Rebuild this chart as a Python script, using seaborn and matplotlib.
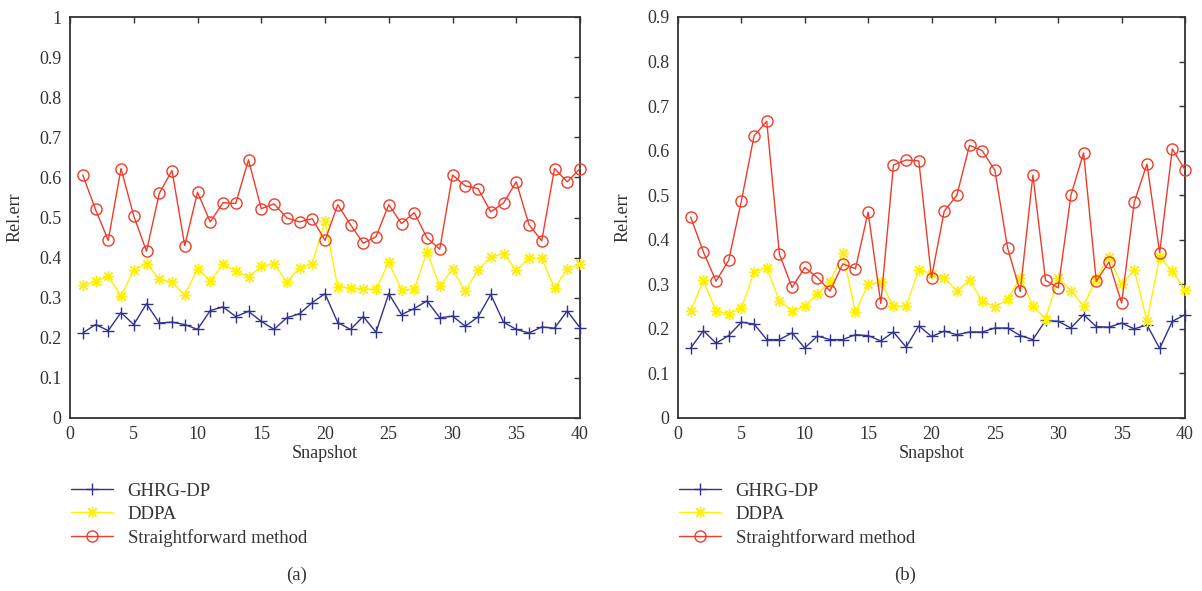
import numpy as np
import pandas as pd
import seaborn as sns
import matplotlib.pyplot as plt
from matplotlib.ticker import FuncFormatter

# snapshots 1..40
snapshot = list(range(1, 41))

# panel (a)
ghrg_a = [0.212, 0.233, 0.218, 0.263, 0.233, 0.285, 0.237, 0.239, 0.233, 0.221,
          0.268, 0.277, 0.253, 0.266, 0.241, 0.221, 0.250, 0.260, 0.288, 0.310,
          0.238, 0.221, 0.253, 0.214, 0.310, 0.258, 0.273, 0.292, 0.250, 0.254,
          0.229, 0.252, 0.308, 0.239, 0.221, 0.212, 0.227, 0.224, 0.267, 0.225]
ddpa_a = [0.331, 0.341, 0.353, 0.304, 0.369, 0.385, 0.346, 0.339, 0.306, 0.372,
          0.342, 0.383, 0.367, 0.352, 0.378, 0.385, 0.339, 0.374, 0.385, 0.491,
          0.327, 0.325, 0.322, 0.321, 0.388, 0.320, 0.321, 0.414, 0.329, 0.371,
          0.316, 0.370, 0.401, 0.410, 0.368, 0.399, 0.398, 0.324, 0.371, 0.384]
sf_a = [0.606, 0.520, 0.443, 0.622, 0.504, 0.416, 0.560, 0.617, 0.430, 0.563,
        0.489, 0.537, 0.535, 0.644, 0.522, 0.534, 0.499, 0.489, 0.497, 0.443,
        0.532, 0.482, 0.436, 0.452, 0.532, 0.485, 0.512, 0.449, 0.421, 0.606,
        0.579, 0.572, 0.514, 0.536, 0.589, 0.482, 0.442, 0.622, 0.589, 0.622]

# panel (b)
ghrg_b = [0.157, 0.196, 0.168, 0.185, 0.215, 0.211, 0.176, 0.176, 0.191, 0.157,
          0.184, 0.176, 0.176, 0.187, 0.185, 0.173, 0.193, 0.159, 0.207, 0.183,
          0.195, 0.187, 0.193, 0.193, 0.202, 0.202, 0.185, 0.176, 0.219, 0.217,
          0.202, 0.232, 0.205, 0.204, 0.213, 0.200, 0.209, 0.156, 0.217, 0.232]
ddpa_b = [0.240, 0.309, 0.240, 0.234, 0.246, 0.328, 0.337, 0.263, 0.240, 0.251,
          0.279, 0.305, 0.370, 0.238, 0.300, 0.305, 0.251, 0.251, 0.333, 0.324,
          0.315, 0.285, 0.309, 0.263, 0.249, 0.266, 0.315, 0.251, 0.223, 0.315,
          0.285, 0.252, 0.313, 0.361, 0.300, 0.332, 0.218, 0.361, 0.329, 0.288]
sf_b = [0.451, 0.373, 0.307, 0.354, 0.487, 0.633, 0.666, 0.368, 0.293, 0.338,
        0.315, 0.285, 0.346, 0.335, 0.462, 0.257, 0.568, 0.579, 0.577, 0.315,
        0.464, 0.500, 0.612, 0.600, 0.556, 0.382, 0.284, 0.545, 0.309, 0.292,
        0.500, 0.595, 0.307, 0.350, 0.258, 0.485, 0.570, 0.371, 0.604, 0.557]

methods = ['GHRG-DP', 'DDPA', 'Straightforward method']
colors = {'GHRG-DP': '#32328f', 'DDPA': '#fff000', 'Straightforward method': '#ef3c2a'}
markers = {'GHRG-DP': '+', 'DDPA': (8, 2, 0), 'Straightforward method': 'o'}

sns.set_style('white')
plt.rcParams['font.family'] = ['Liberation Serif', 'DejaVu Serif']

fig = plt.figure(figsize=(12.02, 5.91), dpi=100)
ax_a = fig.add_axes([70 / 1202, 1 - 418 / 591, 510 / 1202, 401 / 591])
ax_b = fig.add_axes([678 / 1202, 1 - 418 / 591, 507 / 1202, 401 / 591])

panels = [
    (ax_a, [ghrg_a, ddpa_a, sf_a], 1.0, '(a)', 297),
    (ax_b, [ghrg_b, ddpa_b, sf_b], 0.9, '(b)', 905),
]

text_col = '#333333'
for ax, series, ymax, tag, tag_x in panels:
    df = pd.DataFrame({'Snapshot': snapshot * 3,
                       'err': series[0] + series[1] + series[2],
                       'method': np.repeat(methods, 40)})
    for m in methods:
        sub = df[df['method'] == m]
        face = 'none' if m == 'Straightforward method' else colors[m]
        sns.lineplot(data=sub, x='Snapshot', y='err', ax=ax, color=colors[m],
                     marker=markers[m], markersize=8, markerfacecolor=face,
                     markeredgecolor=colors[m], markeredgewidth=1.0,
                     linewidth=1.0, label=m, clip_on=False, zorder=3)
    ax.set_xlim(0, 40)
    ax.set_ylim(0, ymax)
    ax.set_xticks(range(0, 41, 5))
    ax.set_yticks(np.round(np.arange(0, ymax + 0.01, 0.1), 1))
    ax.yaxis.set_major_formatter(FuncFormatter(lambda v, p: f'{v:g}'))
    ax.tick_params(direction='in', top=True, right=True, length=4, width=1,
                   labelsize=13, colors=text_col, labelcolor=text_col, pad=6)
    for s in ax.spines.values():
        s.set_color(text_col)
        s.set_linewidth(1.3)
    ax.set_xlabel('Snapshot', fontsize=13, color=text_col, labelpad=1)
    ax.set_ylabel('Rel.err', fontsize=13, color=text_col, labelpad=11)
    ax.legend(loc='upper left', bbox_to_anchor=(-0.012, -0.142), frameon=False,
              fontsize=13.5, handlelength=2.2, handletextpad=0.8,
              labelspacing=0.32, borderaxespad=0, labelcolor=text_col)
    fig.text(tag_x / 1202, 1 - 575 / 591, tag, ha='center', va='center',
             fontsize=13.5, color=text_col)

plt.savefig('out.png', dpi=100)
